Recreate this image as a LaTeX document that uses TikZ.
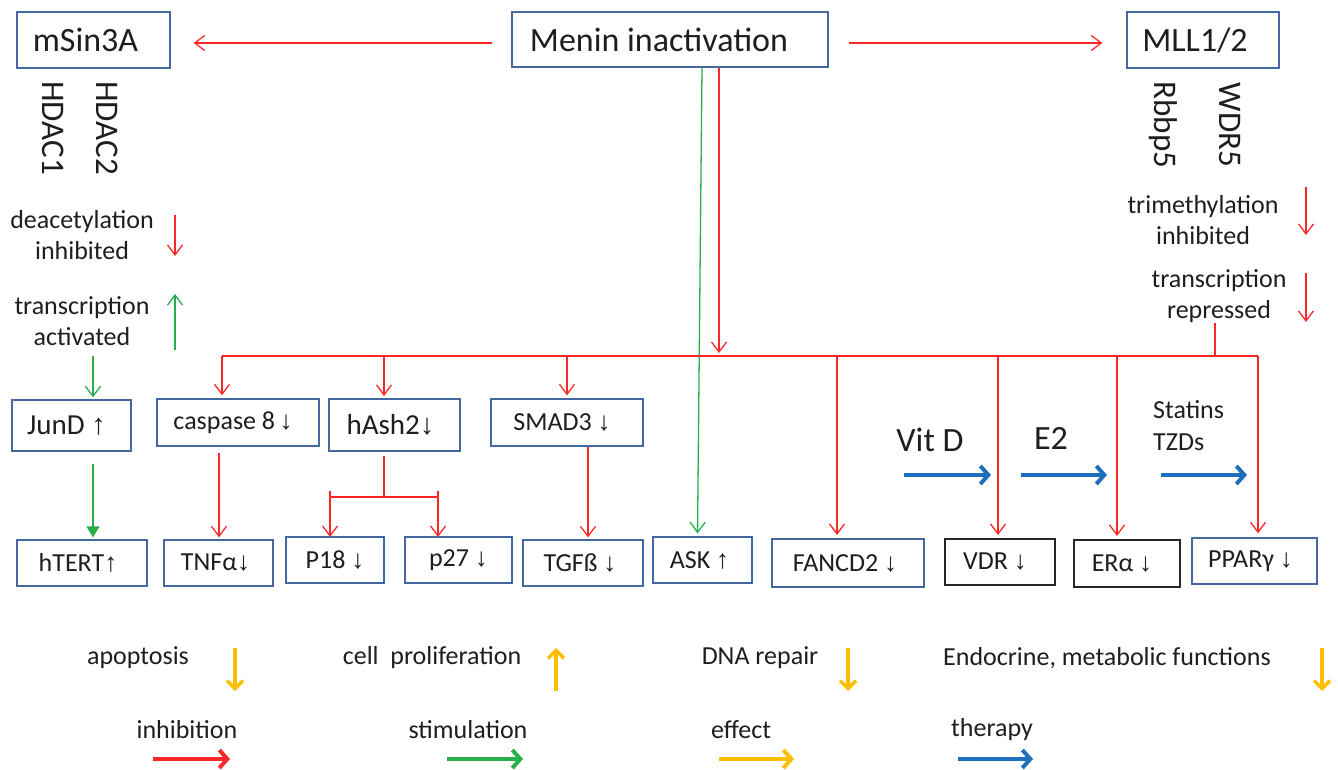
\documentclass[tikz,border=0pt]{standalone}
\usepackage{fontspec}
\setmainfont{Carlito}
\newfontfamily\arrfont{Liberation Sans}
\usetikzlibrary{arrows.meta}
\definecolor{myred}{RGB}{250,40,40}
\definecolor{mygreen}{RGB}{40,175,75}
\definecolor{boxblue}{RGB}{70,104,160}
\definecolor{myorange}{RGB}{255,190,0}
\definecolor{tblue}{RGB}{30,110,190}
\definecolor{mytext}{RGB}{30,30,30}
\newcommand\myup{{\arrfont ↑}}
\newcommand\mydn{{\arrfont ↓}}
\newcommand\fbig{\fontsize{34}{40}\selectfont}
\newcommand\fhd{\fontsize{33}{38}\selectfont}
\newcommand\fmid{\fontsize{29}{34}\selectfont}
\newcommand\fsm{\fontsize{26}{31}\selectfont}
\newcommand\lsh[1]{\kern-#1pt}
\begin{document}
\begin{tikzpicture}[x=1pt,y=-1pt,
  box/.style={draw=boxblue, line width=1.3pt, fill=white, inner sep=0pt, text=mytext, font=\fsm},
  kbox/.style={box, draw=black!85},
  txt/.style={inner sep=0pt, text=mytext, align=center, font=\fsm},
  redarr/.style={draw=myred, line width=1.3pt, -{Straight Barb[length=10pt,width=15pt,line width=1.3pt]}},
  greenarr/.style={draw=mygreen, line width=1.3pt, -{Straight Barb[length=10pt,width=15pt,line width=1.3pt]}},
  redline/.style={draw=myred, line width=1.3pt},
  thick arr/.style={line width=4.5pt, -{Straight Barb[length=8pt,width=18pt,line width=4pt]}},
]
\useasboundingbox (0,0) rectangle (1338,770);

% top boxes
\node[box, font=\fbig, minimum width=153pt, minimum height=56pt] (msin) at (93.5,40) {\lsh{16}mSin3A};
\node[box, font=\fbig, minimum width=316pt, minimum height=55pt] (menin) at (670,39.5) {\lsh{22}Menin inactivation};
\node[box, font=\fbig, minimum width=152pt, minimum height=56pt] (mll) at (1203,40) {\lsh{16}MLL1/2};

\draw[redarr, shorten <=19pt, shorten >=23pt] (menin.west |- 0,43) -- (msin.east |- 0,43);
\draw[redarr, shorten <=20pt, shorten >=24pt] (menin.east |- 0,43) -- (mll.west |- 0,43);

% rotated labels
\node[txt, font=\fhd, rotate=-90] (hdac1) at (53,128) {HDAC1};
\node[txt, font=\fhd, rotate=-90] (hdac2) at (107,128) {HDAC2};
\node[txt, font=\fhd, rotate=-90] (rbbp) at (1163,125) {Rbbp5};
\node[txt, font=\fhd, rotate=-90] (wdr) at (1230,125) {WDR5};

% left side texts
\node[txt] (deac) at (82,235) {deacetylation\\inhibited};
\node[txt] (tact) at (82,321) {transcription\\activated};
\coordinate (da1) at (175,215); \coordinate (da2) at (175,256);
\draw[redarr] (da1) -- (da2);
\coordinate (ta1) at (175,350); \coordinate (ta2) at (175,294);
\draw[greenarr] (ta1) -- (ta2);

% right side texts
\node[txt] (trim) at (1203,220) {trimethylation\\inhibited};
\node[txt] (trep) at (1219,296) {transcription\\repressed};
\coordinate (ra1) at (1306,187); \coordinate (ra2) at (1306,235);
\draw[redarr] (ra1) -- (ra2);
\coordinate (rb1) at (1306,273); \coordinate (rb2) at (1306,322);
\draw[redarr] (rb1) -- (rb2);

% middle row boxes
\node[box, font=\fmid, minimum width=119pt, minimum height=51pt] (jund) at (71.5,425.5) {\lsh{10}JunD \myup};
\node[box, minimum width=162pt, minimum height=47pt] (casp) at (238,422.5) {\lsh{10}caspase 8\,\mydn};
\node[box, font=\fmid, minimum width=131pt, minimum height=52pt] (hash) at (394.5,425) {\lsh{8}hAsh2\mydn};
\node[box, minimum width=152pt, minimum height=47pt] (smad) at (567,422.5) {\lsh{10}SMAD3 \mydn};

% bottom row boxes
\node[box, minimum width=130pt, minimum height=46pt] (htert) at (82,563) {\lsh{8}hTERT\myup};
\node[box, minimum width=109pt, minimum height=46pt] (tnf) at (218.5,563) {\lsh{6}TNFα\mydn};
\node[box, minimum width=98pt, minimum height=46pt] (p18) at (335,560) {P18 \mydn};
\node[box, minimum width=107pt, minimum height=46pt] (p27) at (458.5,560) {p27 \mydn};
\node[box, minimum width=120pt, minimum height=46pt] (tgf) at (583,563) {\lsh{6}TGFß \mydn};
\node[box, minimum width=99pt, minimum height=46pt] (ask) at (702.5,560) {\lsh{6}ASK \myup};
\node[box, minimum width=152pt, minimum height=48pt] (fanc) at (848,563) {\lsh{6}FANCD2 \mydn};
\node[kbox, minimum width=110pt, minimum height=46pt] (vdr) at (1000,562) {\lsh{10}VDR \mydn};
\node[kbox, minimum width=106pt, minimum height=47pt] (era) at (1127,563.5) {\lsh{10}ERα \mydn};
\node[box, minimum width=125pt, minimum height=46pt] (ppar) at (1254.5,561) {\lsh{8}PPARγ \mydn};

% menin down connectors
\draw[greenarr, shorten >=3pt] (menin.south -| 702,0) -- ([xshift=-5pt]ask.north);
\draw[redarr, shorten >=3pt] (menin.south -| 719,0) -- (719,356);

% bus
\coordinate (busL) at (222,356);
\coordinate (busR) at (1258,356);
\draw[redline] (busL) -- (busR);
\coordinate (rep) at (1215,323);
\draw[redline] (rep) -- (rep |- busR);
\draw[redarr, shorten >=3pt] (busL) -- (busL |- casp.north);
\draw[redarr, shorten >=3pt] (384,356) -- (384,399);
\draw[redarr, shorten >=3pt] (567,356) -- (smad.north);
\draw[redarr, shorten >=4pt] (837,356) -- (837,539);
\draw[redarr, shorten >=4pt] (998,356) -- (998,539);
\draw[redarr, shorten >=4pt] (1117,356) -- (1117,540);
\draw[redarr, shorten >=4pt] (busR) -- (busR |- ppar.north);

% green JunD connectors
\coordinate (g1) at (93,356);
\draw[greenarr, shorten >=2pt] (g1) -- (g1 |- jund.north);
\draw[draw=mygreen, line width=1.3pt, -{Triangle[length=11pt,width=13pt]}, shorten <=12pt, shorten >=2pt] (jund.south -| 93,0) -- (htert.north -| 93,0);

% caspase -> TNF
\draw[redarr, shorten <=6pt, shorten >=2pt] (casp.south -| 219,0) -- (tnf.north -| 219,0);
% hAsh2 split
\coordinate (hs) at (384,497);
\draw[redline, shorten <=4pt] (hash.south -| hs) -- (hs);
\draw[redline] (330,497) -- (438,497);
\draw[redline] (330,491) -- (330,503);
\draw[redline] (438,491) -- (438,503);
\draw[redarr] (330,497) -- (330,537);
\draw[redarr] (438,497) -- (438,537);
% SMAD3 -> TGF
\draw[redarr, shorten >=2pt] (smad.south -| 588,0) -- (tgf.north -| 588,0);

% therapy
\node[txt, font=\fbig] (vitd) at (930,440) {Vit D};
\node[txt, font=\fbig] (e2) at (1051,438) {E2};
\node[txt, align=left, anchor=west, font=\fontsize{26}{32}\selectfont] (stat) at (1153,426) {Statins\\TZDs};
\draw[tblue, thick arr] (904,475) -- (991,475);
\draw[tblue, thick arr] (1021,475) -- (1107,475);
\draw[tblue, thick arr] (1161,475) -- (1247,475);

% effects legend
\node[txt] (apo) at (138,658) {apoptosis};
\node[txt] (prol) at (432,658) {cell\ \ proliferation};
\node[txt] (dna) at (760,658) {DNA repair};
\node[txt] (endo) at (1107,658) {Endocrine, metabolic functions};
\draw[myorange, line width=4pt, -{Straight Barb[length=8pt,width=16pt,line width=3.5pt]}] (235,648) -- (235,691);
\draw[myorange, line width=4pt, -{Straight Barb[length=8pt,width=16pt,line width=3.5pt]}] (556,691) -- (556,648);
\draw[myorange, line width=4pt, -{Straight Barb[length=8pt,width=16pt,line width=3.5pt]}] (848,648) -- (848,691);
\draw[myorange, line width=4pt, -{Straight Barb[length=8pt,width=16pt,line width=3.5pt]}] (1322,648) -- (1322,691);

\node[txt] (inh) at (187,730) {inhibition};
\node[txt] (stim) at (468,730) {stimulation};
\node[txt] (eff) at (741,730) {effect};
\node[txt] (ther) at (992,730) {therapy};
\draw[myred, thick arr] (153,759) -- (230,759);
\draw[mygreen, thick arr] (447,759) -- (523,759);
\draw[myorange, thick arr] (719,759) -- (794,759);
\draw[tblue, thick arr] (958,759) -- (1033,759);
\end{tikzpicture}
\end{document}
